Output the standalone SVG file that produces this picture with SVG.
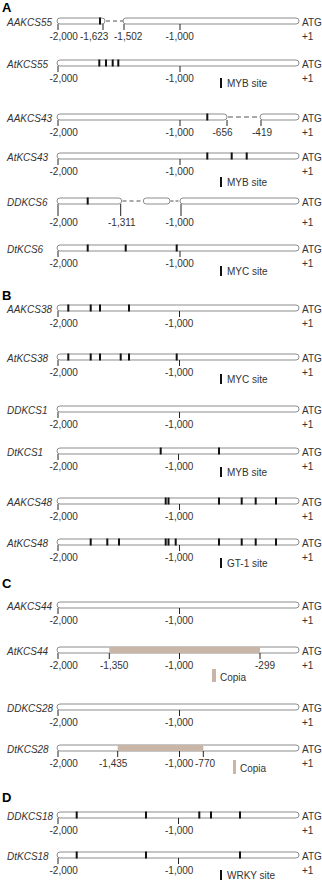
<svg xmlns="http://www.w3.org/2000/svg" width="322" height="881" viewBox="0 0 322 881">
<style>
.bg{fill:#fff}
.bar{fill:#fff;stroke:#8c8c8c;stroke-width:1}
.tick{stroke:#222;stroke-width:1}
.site{fill:#111}
.dash{stroke:#555;stroke-width:1;stroke-dasharray:4 3;fill:none}
.copia{fill:#c9b6a6}
.gene{font-family:"Liberation Sans",Arial,sans-serif;font-style:italic;font-size:10px;fill:#333}
.num{font-family:"Liberation Sans",Arial,sans-serif;font-size:10px;fill:#333}
.panel{font-family:"Liberation Sans",Arial,sans-serif;font-weight:bold;font-size:13px;fill:#000}
</style>
<defs>
<rect id="s" class="site" x="-1" y="-0.5" width="2" height="7"/>
<line id="t" class="tick" x1="0" y1="6" x2="0" y2="12"/>
<rect id="lg" class="site" x="0" y="0" width="2" height="10"/>
</defs>
<rect class="bg" x="0" y="0" width="322" height="881"/>
<text class="panel" x="2" y="12">A</text>
<text class="panel" x="2" y="300">B</text>
<text class="panel" x="2" y="588">C</text>
<text class="panel" x="2" y="802">D</text>

<g id="AAKCS55" transform="translate(0,18)">
<text class="gene" x="7" y="7.5">AAKCS55</text>
<rect class="bar" x="57" y="0" width="48" height="6" rx="3"/>
<rect class="bar" x="123" y="0" width="176" height="6" rx="3"/>
<line class="dash" x1="106" y1="3" x2="123" y2="3"/>
<use href="#s" x="100"/>
<text class="num" x="302" y="7.5">ATG</text>
<use href="#t" x="58"/><use href="#t" x="103"/><use href="#t" x="124"/><use href="#t" x="180"/>
<text class="num" x="49.5" y="22">-2,000</text><text class="num" x="80" y="22">-1,623</text><text class="num" x="114" y="22">-1,502</text><text class="num" x="165.5" y="22">-1,000</text><text class="num" x="302" y="22">+1</text>
</g>

<g id="AtKCS55" transform="translate(0,60)">
<text class="gene" x="7" y="7.5">AtKCS55</text>
<rect class="bar" x="57" y="0" width="242" height="6" rx="3"/>
<use href="#s" x="99.3"/><use href="#s" x="106"/><use href="#s" x="112.7"/><use href="#s" x="118.3"/>
<text class="num" x="302" y="7.5">ATG</text>
<use href="#t" x="58"/><use href="#t" x="180"/>
<text class="num" x="49.5" y="22">-2,000</text><text class="num" x="165.5" y="22">-1,000</text><text class="num" x="302" y="22">+1</text>
<use href="#lg" x="220" y="18"/><text class="num" x="227" y="27">MYB  site</text>
</g>

<g id="AAKCS43" transform="translate(0,114)">
<text class="gene" x="7" y="7.5">AAKCS43</text>
<rect class="bar" x="57" y="0" width="170" height="6" rx="3"/>
<rect class="bar" x="260" y="0" width="39" height="6" rx="3"/>
<line class="dash" x1="228" y1="3" x2="260" y2="3" style="stroke-dasharray:5 3"/>
<use href="#s" x="207.3"/>
<text class="num" x="302" y="7.5">ATG</text>
<use href="#t" x="58"/><use href="#t" x="180"/><use href="#t" x="227"/><use href="#t" x="261"/>
<text class="num" x="49.5" y="22">-2,000</text><text class="num" x="165.5" y="22">-1,000</text><text class="num" x="212.5" y="22">-656</text><text class="num" x="252" y="22">-419</text><text class="num" x="302" y="22">+1</text>
</g>

<g id="AtKCS43" transform="translate(0,153)">
<text class="gene" x="7" y="7.5">AtKCS43</text>
<rect class="bar" x="57" y="0" width="242" height="6" rx="3"/>
<use href="#s" x="207.3"/><use href="#s" x="231.7"/><use href="#s" x="246.7"/>
<text class="num" x="302" y="7.5">ATG</text>
<use href="#t" x="58"/><use href="#t" x="180"/>
<text class="num" x="49.5" y="22">-2,000</text><text class="num" x="165.5" y="22">-1,000</text><text class="num" x="302" y="22">+1</text>
<use href="#lg" x="220" y="24"/><text class="num" x="227" y="33">MYB  site</text>
</g>

<g id="DDKCS6" transform="translate(0,198)">
<text class="gene" x="7" y="7.5">DDKCS6</text>
<rect class="bar" x="57" y="0" width="64.7" height="6" rx="3"/>
<rect class="bar" x="143.3" y="0" width="26.7" height="6" rx="3"/>
<rect class="bar" x="180" y="0" width="119" height="6" rx="3"/>
<line class="dash" x1="122.5" y1="3" x2="143.3" y2="3"/>
<line class="dash" x1="170.5" y1="3" x2="180" y2="3" style="stroke-dasharray:3 2"/>
<use href="#s" x="87.7"/>
<text class="num" x="302" y="7.5">ATG</text>
<line class="tick" x1="58" y1="6" x2="58" y2="18"/><line class="tick" x1="120.7" y1="6" x2="120.7" y2="18"/><line class="tick" x1="181" y1="6" x2="181" y2="18"/>
<text class="num" x="49.5" y="28">-2,000</text><text class="num" x="108" y="28">-1,311</text><text class="num" x="165.5" y="28">-1,000</text><text class="num" x="302" y="28">+1</text>
</g>

<g id="DtKCS6" transform="translate(0,245)">
<text class="gene" x="7" y="7.5">DtKCS6</text>
<rect class="bar" x="57" y="0" width="242" height="6" rx="3"/>
<use href="#s" x="87.7"/><use href="#s" x="125.7"/><use href="#s" x="176.7"/>
<text class="num" x="302" y="7.5">ATG</text>
<use href="#t" x="58"/><use href="#t" x="180"/>
<text class="num" x="49.5" y="22">-2,000</text><text class="num" x="165.5" y="22">-1,000</text><text class="num" x="302" y="22">+1</text>
<use href="#lg" x="220" y="21"/><text class="num" x="227" y="30">MYC site</text>
</g>

<g id="AAKCS38" transform="translate(0,305)">
<text class="gene" x="7" y="7.5">AAKCS38</text>
<rect class="bar" x="57" y="0" width="242" height="6" rx="3"/>
<use href="#s" x="68.3"/><use href="#s" x="90.7"/><use href="#s" x="100"/><use href="#s" x="129"/>
<text class="num" x="302" y="7.5">ATG</text>
<use href="#t" x="58"/><use href="#t" x="179.5"/>
<text class="num" x="49.5" y="22">-2,000</text><text class="num" x="165" y="22">-1,000</text><text class="num" x="302" y="22">+1</text>
</g>

<g id="AtKCS38" transform="translate(0,354)">
<text class="gene" x="7" y="7.5">AtKCS38</text>
<rect class="bar" x="57" y="0" width="242" height="6" rx="3"/>
<use href="#s" x="68.3"/><use href="#s" x="90.7"/><use href="#s" x="100"/><use href="#s" x="120.7"/><use href="#s" x="129"/><use href="#s" x="176.7"/>
<text class="num" x="302" y="7.5">ATG</text>
<use href="#t" x="58"/><use href="#t" x="179.5"/>
<text class="num" x="49.5" y="22">-2,000</text><text class="num" x="165" y="22">-1,000</text><text class="num" x="302" y="22">+1</text>
<use href="#lg" x="220" y="20"/><text class="num" x="227" y="29">MYC site</text>
</g>

<g id="DDKCS1" transform="translate(0,406)">
<text class="gene" x="7" y="7.5">DDKCS1</text>
<rect class="bar" x="57" y="0" width="242" height="6" rx="3"/>
<text class="num" x="302" y="7.5">ATG</text>
<use href="#t" x="58"/><use href="#t" x="179.5"/>
<text class="num" x="49.5" y="22">-2,000</text><text class="num" x="165" y="22">-1,000</text><text class="num" x="302" y="22">+1</text>
</g>

<g id="DtKCS1" transform="translate(0,448)">
<text class="gene" x="7" y="7.5">DtKCS1</text>
<rect class="bar" x="57" y="0" width="242" height="6" rx="3"/>
<use href="#s" x="160.7"/><use href="#s" x="219"/>
<text class="num" x="302" y="7.5">ATG</text>
<use href="#t" x="58"/><use href="#t" x="178.5"/>
<text class="num" x="49.5" y="22">-2,000</text><text class="num" x="165" y="22">-1,000</text><text class="num" x="302" y="22">+1</text>
<use href="#lg" x="220" y="19"/><text class="num" x="227" y="28">MYB site</text>
</g>

<g id="AAKCS48" transform="translate(0,498)">
<text class="gene" x="7" y="7.5">AAKCS48</text>
<rect class="bar" x="57" y="0" width="242" height="6" rx="3"/>
<use href="#s" x="165.7"/><use href="#s" x="168.5"/><use href="#s" x="219"/><use href="#s" x="241.7"/><use href="#s" x="255.7"/><use href="#s" x="276"/>
<text class="num" x="302" y="7.5">ATG</text>
<use href="#t" x="58"/><use href="#t" x="179.5"/>
<text class="num" x="49.5" y="22">-2,000</text><text class="num" x="165" y="22">-1,000</text><text class="num" x="302" y="22">+1</text>
</g>

<g id="AtKCS48" transform="translate(0,539)">
<text class="gene" x="7" y="7.5">AtKCS48</text>
<rect class="bar" x="57" y="0" width="242" height="6" rx="3"/>
<use href="#s" x="90.7"/><use href="#s" x="107.3"/><use href="#s" x="119"/><use href="#s" x="165.7"/><use href="#s" x="168.5"/><use href="#s" x="175.7"/><use href="#s" x="219"/><use href="#s" x="241.7"/><use href="#s" x="255.7"/><use href="#s" x="276"/>
<text class="num" x="302" y="7.5">ATG</text>
<use href="#t" x="58"/><use href="#t" x="179.5"/>
<text class="num" x="49.5" y="22">-2,000</text><text class="num" x="165" y="22">-1,000</text><text class="num" x="302" y="22">+1</text>
<use href="#lg" x="220" y="19"/><text class="num" x="227" y="28">GT-1 site</text>
</g>

<g id="AAKCS44" transform="translate(0,602)">
<text class="gene" x="7" y="7.5">AAKCS44</text>
<rect class="bar" x="57" y="0" width="242" height="6" rx="3"/>
<text class="num" x="302" y="7.5">ATG</text>
<use href="#t" x="58"/><use href="#t" x="179.5"/>
<text class="num" x="49.5" y="22">-2,000</text><text class="num" x="165" y="22">-1,000</text><text class="num" x="302" y="22">+1</text>
</g>

<g id="AtKCS44" transform="translate(0,647)">
<text class="gene" x="7" y="7.5">AtKCS44</text>
<rect class="bar" x="57" y="0" width="242" height="6" rx="3"/>
<rect class="copia" x="109.3" y="0" width="150.7" height="6"/>
<text class="num" x="302" y="7.5">ATG</text>
<use href="#t" x="58"/><use href="#t" x="109.3"/><use href="#t" x="179.5"/><use href="#t" x="260"/>
<text class="num" x="49.5" y="22">-2,000</text><text class="num" x="100" y="22">-1,350</text><text class="num" x="165" y="22">-1,000</text><text class="num" x="255" y="22">-299</text><text class="num" x="302" y="22">+1</text>
<rect class="copia" x="212" y="22" width="4" height="13"/><text class="num" x="220" y="34">Copia</text>
</g>

<g id="DDKCS28" transform="translate(0,704)">
<text class="gene" x="7" y="7.5">DDKCS28</text>
<rect class="bar" x="57" y="0" width="242" height="6" rx="3"/>
<text class="num" x="302" y="7.5">ATG</text>
<use href="#t" x="58"/><use href="#t" x="179.5"/>
<text class="num" x="49.5" y="22">-2,000</text><text class="num" x="165" y="22">-1,000</text><text class="num" x="302" y="22">+1</text>
</g>

<g id="DtKCS28" transform="translate(0,745)">
<text class="gene" x="7" y="7.5">DtKCS28</text>
<rect class="bar" x="57" y="0" width="242" height="6" rx="3"/>
<rect class="copia" x="117.7" y="0" width="85.6" height="6"/>
<text class="num" x="302" y="7.5">ATG</text>
<use href="#t" x="58"/><use href="#t" x="117.7"/><use href="#t" x="179.5"/><use href="#t" x="203.3"/>
<text class="num" x="49.5" y="22">-2,000</text><text class="num" x="99" y="22">-1,435</text><text class="num" x="165" y="22">-1,000</text><text class="num" x="195" y="22">-770</text><text class="num" x="302" y="22">+1</text>
<rect class="copia" x="233" y="15" width="3" height="14"/><text class="num" x="240" y="27">Copia</text>
</g>

<g id="DDKCS18" transform="translate(0,812)">
<text class="gene" x="7" y="7.5">DDKCS18</text>
<rect class="bar" x="57" y="0" width="242" height="6" rx="3"/>
<use href="#s" x="76.7"/><use href="#s" x="146"/><use href="#s" x="199.3"/><use href="#s" x="211"/><use href="#s" x="240"/>
<text class="num" x="302" y="7.5">ATG</text>
<use href="#t" x="58"/><use href="#t" x="178.5"/>
<text class="num" x="49.5" y="22">-2,000</text><text class="num" x="165" y="22">-1,000</text><text class="num" x="302" y="22">+1</text>
</g>

<g id="DtKCS18" transform="translate(0,852)">
<text class="gene" x="7" y="7.5">DtKCS18</text>
<rect class="bar" x="57" y="0" width="242" height="6" rx="3"/>
<use href="#s" x="76.7"/><use href="#s" x="146"/><use href="#s" x="240"/>
<text class="num" x="302" y="7.5">ATG</text>
<use href="#t" x="58"/><use href="#t" x="178.5"/>
<text class="num" x="49.5" y="22">-2,000</text><text class="num" x="165" y="22">-1,000</text><text class="num" x="302" y="22">+1</text>
<use href="#lg" x="220" y="18"/><text class="num" x="227" y="27">WRKY site</text>
</g>

<g id="connectors"></g>
</svg>
